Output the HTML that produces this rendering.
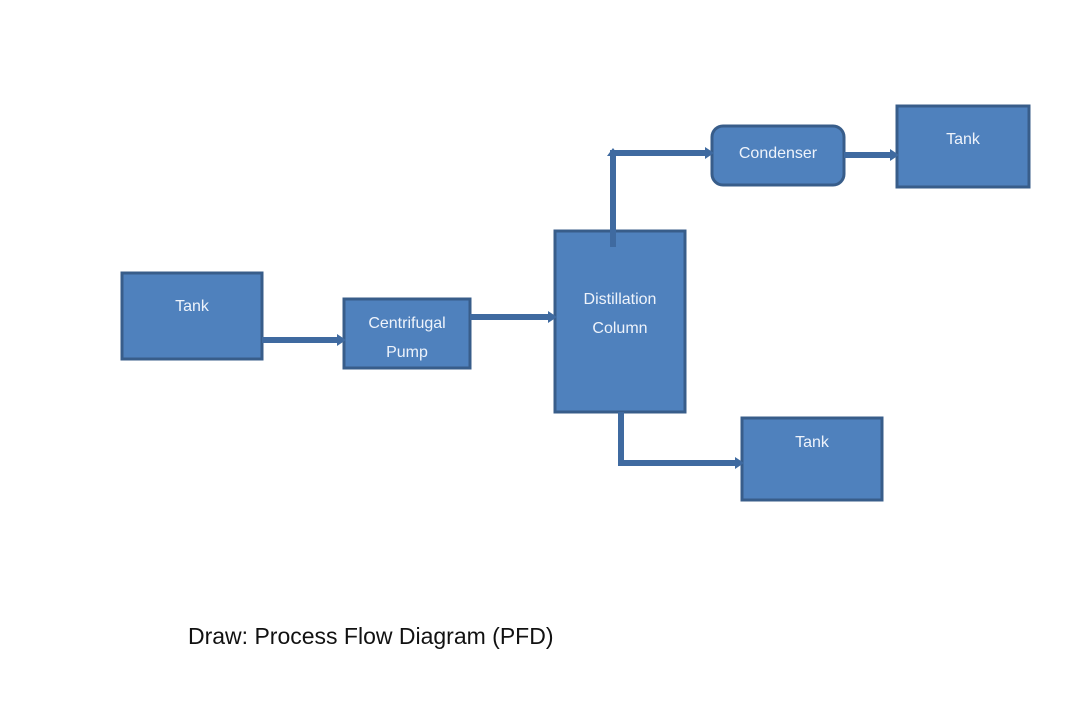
<!DOCTYPE html>
<html><head><style>html,body{margin:0;padding:0;background:#fff}</style></head>
<body>
<svg width="1080" height="714" viewBox="0 0 1080 714" xmlns="http://www.w3.org/2000/svg" style="display:block">
<defs>
<marker id="a" markerWidth="4" markerHeight="4" refX="3" refY="2" orient="auto" markerUnits="strokeWidth"><path d="M0,0.5 L3,2 L0,3.5 Z" fill="#3f6aa0"/></marker>
</defs>
<g fill="#4f81bd" stroke="#385d8a" stroke-width="3">
<rect x="122" y="273" width="140" height="86"/>
<rect x="344" y="299" width="126" height="69"/>
<rect x="555" y="231" width="130" height="181"/>
<rect x="712" y="126" width="132" height="59" rx="11"/>
<rect x="897" y="106" width="132" height="81"/>
<rect x="742" y="418" width="140" height="82"/>
</g>
<g fill="none" stroke="#3f6aa0" stroke-width="6">
<path d="M262,340 H340"/>
<path d="M470,317 H551"/>
<path d="M613,247 V153 H708"/>
<path d="M844,155 H893"/>
<path d="M621,412 V463 H738"/>
</g>
<g fill="#3f6aa0">
<path d="M337,334 L346,340 L337,346Z"/>
<path d="M548,311 L557,317 L548,323Z"/>
<path d="M705,147 L714,153 L705,159Z"/>
<path d="M890,149 L899,155 L890,161Z"/>
<path d="M735,457 L744,463 L735,469Z"/>
<path d="M607,156 L613,148 L619,156Z"/>
</g>
<g fill="#eef3fb" font-family="Liberation Sans, sans-serif" font-size="16" text-anchor="middle">
<text x="192" y="311">Tank</text>
<text x="407" y="328">Centrifugal</text>
<text x="407" y="357">Pump</text>
<text x="620" y="304">Distillation</text>
<text x="620" y="333">Column</text>
<text x="778" y="158">Condenser</text>
<text x="963" y="144">Tank</text>
<text x="812" y="447">Tank</text>
</g>
<text x="188" y="644" font-family="Liberation Sans, sans-serif" font-size="23" fill="#111">Draw: Process Flow Diagram (PFD)</text>
</svg>
</body></html>
